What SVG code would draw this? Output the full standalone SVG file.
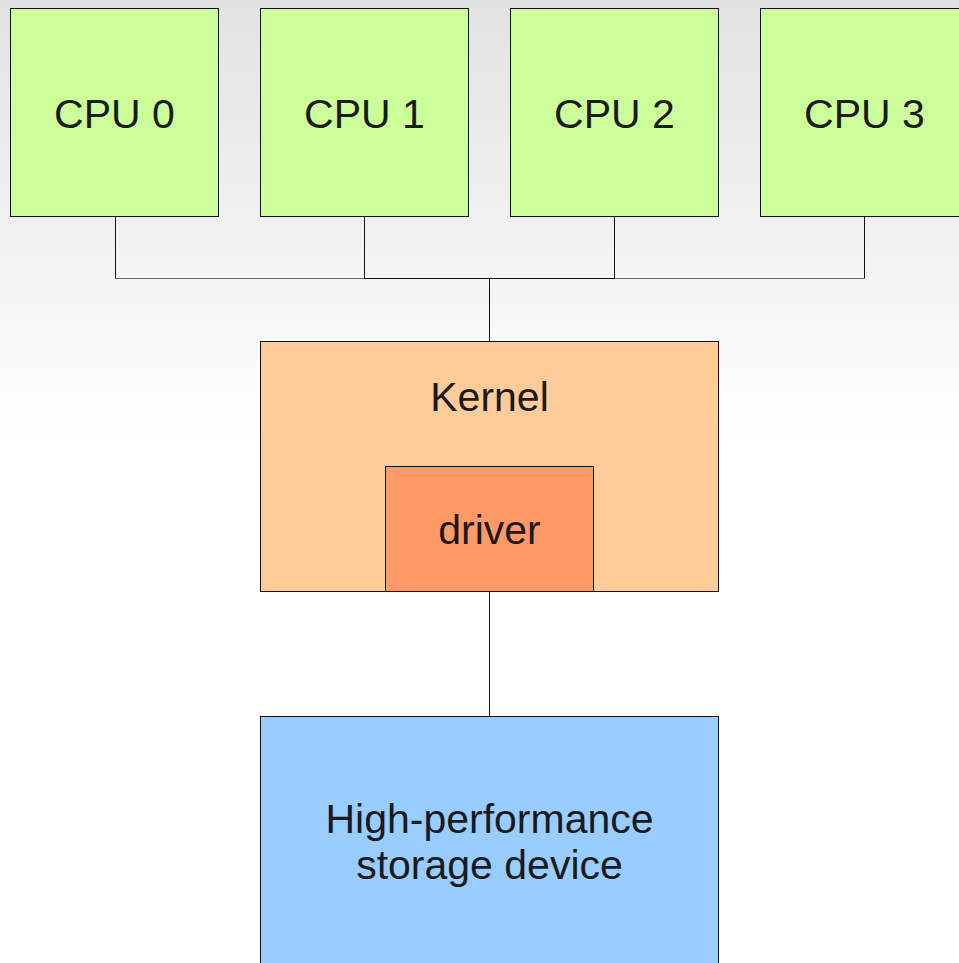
<svg xmlns="http://www.w3.org/2000/svg" width="959" height="963" viewBox="0 0 959 963">
  <defs>
    <linearGradient id="bg" x1="0" y1="0" x2="0" y2="440" gradientUnits="userSpaceOnUse">
      <stop offset="0" stop-color="#e2e2e2"/>
      <stop offset="1" stop-color="#ffffff"/>
    </linearGradient>
    <style>
      .box { stroke: #111; stroke-width: 1; }
      .cpu { fill: #ccff99; }
      .kernel { fill: #ffcc99; }
      .driver { fill: #ff9966; }
      .storage { fill: #99ccff; }
      .label { font-family: "Liberation Sans", Arial, sans-serif; font-size: 41px; fill: #1a1a1a; text-anchor: middle; }
      .wire { fill: none; stroke: #111; stroke-width: 1; }
      .wire-outer { fill: none; stroke: #666; stroke-width: 1; }
    </style>
  </defs>

  <rect width="959" height="963" fill="url(#bg)"/>

  <!-- connectors -->
  <g id="connectors">
    <path class="wire" d="M115.5 216 V278.5"/>
    <path class="wire" d="M364.5 216 V278.5"/>
    <path class="wire" d="M614.5 216 V278.5"/>
    <path class="wire" d="M864.5 216 V278.5"/>
    <path class="wire-outer" d="M115 278.5 H364"/>
    <path class="wire-outer" d="M615 278.5 H865"/>
    <path class="wire" d="M364 278.5 H615"/>
    <path class="wire" d="M489.5 278.5 V341"/>
    <path class="wire" d="M489.5 591 V716"/>
  </g>

  <g id="cpu0">
    <rect class="box cpu" x="10.5" y="8.5" width="208" height="208"/>
    <text class="label" x="114.5" y="128">CPU 0</text>
  </g>
  <g id="cpu1">
    <rect class="box cpu" x="260.5" y="8.5" width="208" height="208"/>
    <text class="label" x="364.5" y="128">CPU 1</text>
  </g>
  <g id="cpu2">
    <rect class="box cpu" x="510.5" y="8.5" width="208" height="208"/>
    <text class="label" x="614.5" y="128">CPU 2</text>
  </g>
  <g id="cpu3">
    <rect class="box cpu" x="760.5" y="8.5" width="208" height="208"/>
    <text class="label" x="864.5" y="128">CPU 3</text>
  </g>

  <g id="kernel">
    <rect class="box kernel" x="260.5" y="341.5" width="458" height="250"/>
    <text class="label" x="489.5" y="411">Kernel</text>
  </g>

  <g id="driver">
    <rect class="box driver" x="385.5" y="466.5" width="208" height="125"/>
    <text class="label" x="489.5" y="544">driver</text>
  </g>

  <g id="storage">
    <rect class="box storage" x="260.5" y="716.5" width="458" height="260"/>
    <text class="label" x="489.5" y="833">High-performance</text>
    <text class="label" x="489.5" y="879">storage device</text>
  </g>
</svg>
